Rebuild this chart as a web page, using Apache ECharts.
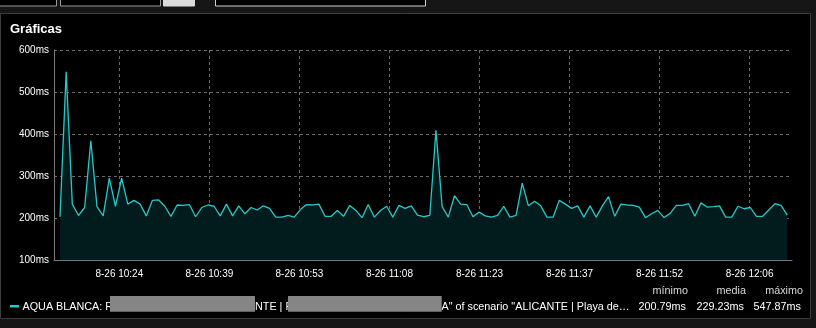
<!DOCTYPE html>
<html>
<head>
<meta charset="utf-8">
<script src="https://cdn.jsdelivr.net/npm/echarts@6/dist/echarts.min.js"></script>
<style>
html,body{margin:0;padding:0;background:#161616;}
#c{width:816px;height:328px;}
</style>
</head>
<body>
<div id="c"></div>
<script>
// ---- data ----
const values = [
  203, 547.87, 233, 206, 225, 384, 227, 205, 295, 228,
  295, 233, 242, 233, 205, 242, 243, 228, 204, 231,
  230, 232, 203, 225, 231, 228, 205, 233, 205, 229,
  210, 225, 219, 229, 223, 202, 202, 206, 202, 220,
  232, 231, 233, 204, 204, 218, 204, 230, 218, 200.79,
  232, 202, 218, 228, 202, 230, 223, 229, 207, 203,
  206, 409, 227, 202, 253, 233, 232, 203, 214, 205,
  202, 206, 228, 202, 206, 283, 229, 240, 229, 202,
  202, 242, 233, 223, 229, 202, 229, 202, 229, 251,
  204, 233, 231, 230, 226, 201, 210, 218, 201, 211,
  230, 230, 234, 204, 236, 226, 227, 229, 202, 202,
  228, 222, 225, 204, 204, 219, 234, 230, 207
];
const startSec = 36902.5;   // time of first sample (seconds of day)
const stepSec = 60;         // sampling step
const tickSecs = [37480, 38356.5, 39233, 40109.5, 40986, 41862.5, 42739, 43615.5];
const tickLabels = ['8-26 10:24','8-26 10:39','8-26 10:53','8-26 11:08','8-26 11:23','8-26 11:37','8-26 11:52','8-26 12:06'];
const yTicks = [100, 200, 300, 400, 500, 600];
const seriesName = 'AQUA BLANCA';
const statHeaders = ['mínimo', 'media', 'máximo'];
const statValues = ['200.79ms', '229.23ms', '547.87ms'];

const seriesData = values.map((v, i) => [startSec + i * stepSec, v]);

const FONT = "Arial, 'Liberation Sans', sans-serif";
const chart = echarts.init(document.getElementById('c'), null, {renderer: 'canvas'});

const statRight = [686, 744, 801];
const graphics = [
  // panel
  {type:'rect', shape:{x:0.5, y:13.5, width:810, height:305}, style:{fill:'#000', stroke:'#3c3c3c', lineWidth:1}, z:-10, silent:true},
  // top controls
  {type:'rect', shape:{x:-1, y:-2, width:57.5, height:8}, style:{fill:'#000', stroke:'#9a9a9a', lineWidth:1}, z:-10},
  {type:'rect', shape:{x:60.5, y:-2, width:100, height:8}, style:{fill:'#000', stroke:'#9a9a9a', lineWidth:1}, z:-10},
  {type:'rect', shape:{x:163, y:-2, width:32, height:8.5, r:1}, style:{fill:'#dcdcdc'}, z:-10},
  {type:'rect', shape:{x:215.5, y:-2, width:210, height:8}, style:{fill:'#000', stroke:'#d0d0d0', lineWidth:1}, z:-10},
  // legend
  {type:'rect', shape:{x:10, y:305, width:9, height:2.5}, style:{fill:'#26c8c8'}},
  {type:'text', x:22.5, y:307, style:{text:seriesName + ': R', fill:'#fff', font:'10.8px ' + FONT, verticalAlign:'middle'}},
  {type:'text', x:255, y:307, style:{text:'NTE | R', fill:'#fff', font:'10.8px ' + FONT, verticalAlign:'middle'}},
  {type:'text', x:441.5, y:307, style:{text:'A" of scenario "ALICANTE | Playa de…', fill:'#fff', font:'10.8px ' + FONT, verticalAlign:'middle'}},
  {type:'rect', shape:{x:110, y:296, width:145, height:15.7}, style:{fill:'#858585'}, z:20},
  {type:'rect', shape:{x:288, y:296, width:153.7, height:15.7}, style:{fill:'#858585'}, z:20}
];
statHeaders.forEach((h, i) => {
  graphics.push({type:'text', x:statRight[i] + 2, y:291.5, style:{text:h, fill:'#d8d8d8', font:'10.8px ' + FONT, align:'right', verticalAlign:'middle'}});
  graphics.push({type:'text', x:statRight[i], y:307, style:{text:statValues[i], fill:'#fff', font:'10.8px ' + FONT, align:'right', verticalAlign:'middle'}});
});

chart.setOption({
  animation: false,
  backgroundColor: '#161616',
  title: {
    text: 'Gráficas', left: 5, top: 18,
    textStyle: {color:'#fff', fontSize:13, fontWeight:'bold', fontFamily: FONT}
  },
  grid: {left: 54, right: 24, top: 50, bottom: 68, containLabel: false, outerBoundsMode: 'none'},
  xAxis: {
    type: 'value',
    min: 36844, max: 44028.5,
    axisLine: {show: true, lineStyle: {color:'#7a7a7a', width: 1}},
    axisTick: {show: false, customValues: tickSecs},
    axisLabel: {
      customValues: tickSecs,
      color:'#fff', fontSize: 10, fontFamily: FONT, margin: 9,
      formatter: v => { const k = tickSecs.indexOf(v); return k >= 0 ? tickLabels[k] : ''; }
    },
    splitLine: {show: true, lineStyle: {color:'#6a6a6a', type:[3,3], width:1}}
  },
  yAxis: {
    type: 'value', min: 100, max: 600, interval: 100,
    axisLine: {show: true, lineStyle: {color:'#7a7a7a', width: 1}},
    axisTick: {show: false},
    axisLabel: {color:'#fff', fontSize: 10, fontFamily: FONT, margin: 5, formatter: '{value}ms'},
    splitLine: {show: true, lineStyle: {color:'#6a6a6a', type:[3,3], width:1}}
  },
  series: [{
    name: seriesName,
    type: 'line',
    data: seriesData,
    symbol: 'none',
    lineStyle: {color:'#26c8c8', width: 1.3},
    areaStyle: {color:'#021b1c', opacity: 1, origin: 'start'},
    z: 3
  }],
  graphic: graphics
});
</script>
</body>
</html>
